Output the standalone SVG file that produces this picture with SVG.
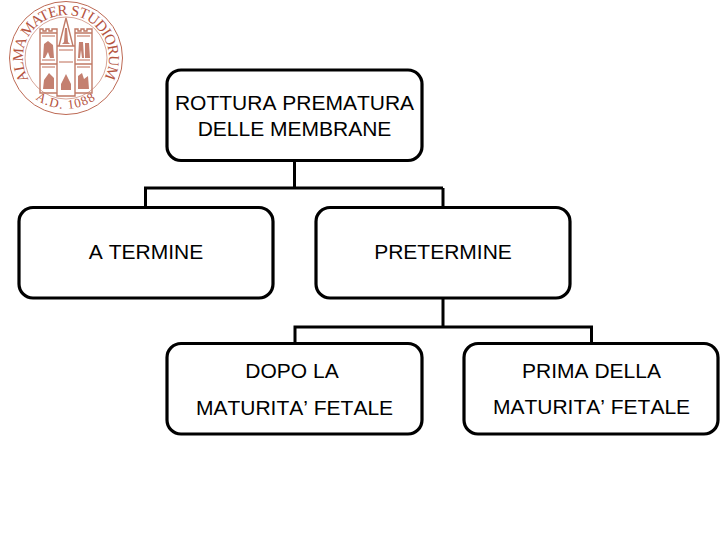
<svg xmlns="http://www.w3.org/2000/svg" width="720" height="540" viewBox="0 0 720 540">
<style>
.box{fill:#fff;stroke:#000;stroke-width:3.2}
.lbl{font:21px "Liberation Sans",Arial,sans-serif;font-kerning:none;fill:#000;text-anchor:middle}
.conn{fill:none;stroke:#000;stroke-width:3}
.s{fill:none;stroke:#bd6a55;stroke-width:1}
.t{fill:none;stroke:#c07a66;stroke-width:1.400}
.f{fill:#b5604c;stroke:none;opacity:.8}
.seal{font-family:"Liberation Serif","Times New Roman",serif;fill:#b5543f}
</style>
<defs>
<path id="top" d="M28.800 79.500 A43 43 0 1 1 103.200 79.500"/>
<path id="bot" d="M30 94 A51 51 0 0 0 102 94"/>
</defs>
<rect width="720" height="540" fill="#fff"/>
<g id="seal">
<circle class="s" cx="66" cy="58" r="56.500"/>
<circle class="s" cx="66" cy="58" r="41" opacity=".6"/>
<text class="seal" font-size="15"><textPath href="#top" textLength="178" lengthAdjust="spacing">ALMA MATER STUDIORUM</textPath></text>
<text class="seal" font-size="13" letter-spacing="1.200" text-anchor="middle"><textPath href="#bot" startOffset="50%">A.D. 1088</textPath></text>
<path class="t" d="M40 33h17v60H40zM75 33h17v60H75zM57 46h18v50H57zM40 33v-4h3v2h3v-2h3v2h3v-2h5v4M75 33v-4h3v2h3v-2h3v2h3v-2h5v4M40 64h17M75 64h17M59 46l7-28 7 28"/>
<path class="f" d="M44 44l4-3 5 4 1 13h-4l-2-6-3 6h-2zM79 42h4l1 16h-2l-1-8-1 8h-2zM85 43h4l1 15h-5zM44 80l5-7 5 5v11H43zM78 76l4-3 2 6 4-3 1 13H78zM61 84l5-10 5 10v6H61zM64 42l1-14h2l1 14 2 2H62z"/>
<path class="s" d="M42 36h13M77 36h13M42 67h13M77 67h13M59 50h14M59 62h14M42 60h13M77 60h13"/>
</g>
<g id="connectors">
<path class="conn" d="M294.500 161V188M145.500 207V188H443M443 188V207M443 298V327M295 344V327H591.500V344"/>
</g>
<g id="n1"><rect class="box" x="167" y="70" width="255" height="90.500" rx="14"/>
<text class="lbl" x="294.500" y="110">ROTTURA PREMATURA</text>
<text class="lbl" x="294.500" y="136">DELLE MEMBRANE</text></g>
<g id="n2"><rect class="box" x="19" y="207.500" width="254" height="90.500" rx="14"/>
<text class="lbl" x="146" y="259">A TERMINE</text></g>
<g id="n3"><rect class="box" x="316" y="207.500" width="254" height="90.500" rx="14"/>
<text class="lbl" x="443" y="259">PRETERMINE</text></g>
<g id="n4"><rect class="box" x="167" y="343.500" width="255" height="90.500" rx="14"/>
<text class="lbl" x="292" y="378">DOPO LA</text>
<text class="lbl" x="294.500" y="415">MATURITA’ FETALE</text></g>
<g id="n5"><rect class="box" x="464" y="343.500" width="254" height="90.500" rx="14"/>
<text class="lbl" x="591.500" y="378">PRIMA DELLA</text>
<text class="lbl" x="591.500" y="414">MATURITA’ FETALE</text></g>
</svg>
